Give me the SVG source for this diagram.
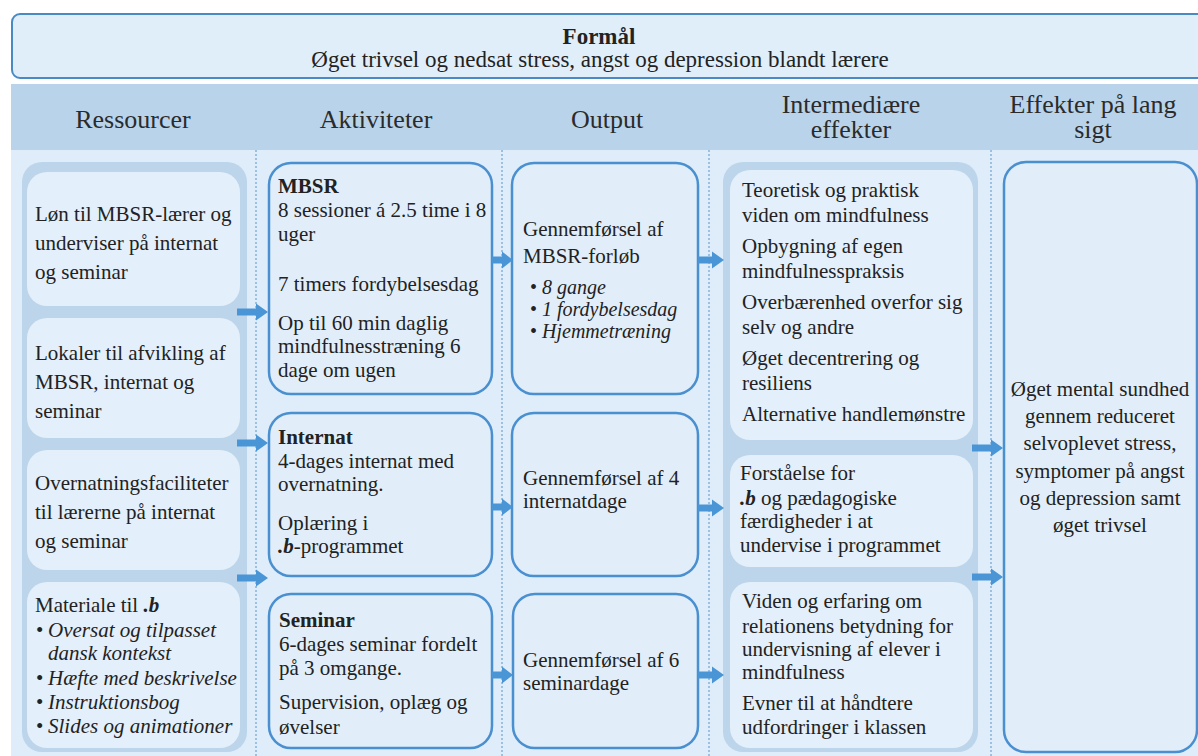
<svg xmlns="http://www.w3.org/2000/svg" width="1198" height="756" viewBox="0 0 1198 756">
<style>
text{font-family:"Liberation Serif","Times New Roman",serif;fill:#222;}
.t{font-size:21px;}
.s{font-size:20px;}
.h{font-size:26px;fill:#2b2b2b;}
.b{font-weight:bold;}
.i{font-style:italic;}
.cont{fill:#bcd5ea;}
.inner{fill:#e3effa;}
.blue{fill:#e1eefa;stroke:#4a8fcf;stroke-width:2.5;}
.div{stroke:#5a93c8;stroke-width:1;stroke-dasharray:2,2;fill:none;}
.arr{fill:#4a95d5;}
.c{text-anchor:middle;}
</style>
<rect x="0" y="0" width="1198" height="756" fill="#ffffff"/>
<g id="formaal">
<rect x="12" y="14" width="1200" height="64" rx="8" fill="#e0eefa" stroke="#4a8ac4" stroke-width="2"/>
<text x="599" y="44" class="c b" style="font-size:23px">Formål</text>
<text x="600" y="67" class="c" style="font-size:23px">Øget trivsel og nedsat stress, angst og depression blandt lærere</text>
</g>
<g id="header">
<rect x="11" y="84" width="1187" height="66" fill="#b9d4ea"/>
<text x="133" y="128" class="h c">Ressourcer</text>
<text x="376" y="128" class="h c">Aktiviteter</text>
<text x="607" y="128" class="h c">Output</text>
<text x="851" y="113" class="h c">Intermediære</text>
<text x="851" y="138" class="h c">effekter</text>
<text x="1093" y="113" class="h c">Effekter på lang</text>
<text x="1093" y="138" class="h c">sigt</text>
</g>
<rect x="11" y="150" width="1187" height="606" fill="#deedf9"/>
<g id="dividers">
<line x1="256" y1="150" x2="256" y2="756" class="div"/>
<line x1="502" y1="150" x2="502" y2="756" class="div"/>
<line x1="709" y1="150" x2="709" y2="756" class="div"/>
<line x1="991" y1="150" x2="991" y2="756" class="div"/>
</g>
<g id="ressourcer">
<rect x="22" y="162" width="225" height="590" rx="20" class="cont"/>
<g id="res-loen">
<rect x="27" y="172" width="213" height="134" rx="20" class="inner"/>
<text class="t" x="35" y="221">Løn til MBSR-lærer og</text>
<text class="t" x="35" y="250">underviser på internat</text>
<text class="t" x="35" y="279">og seminar</text>
</g>
<g id="res-lokaler">
<rect x="27" y="318" width="213" height="120" rx="20" class="inner"/>
<text class="t" x="35" y="360">Lokaler til afvikling af</text>
<text class="t" x="35" y="389">MBSR, internat og</text>
<text class="t" x="35" y="418">seminar</text>
</g>
<g id="res-overnat">
<rect x="27" y="450" width="213" height="120" rx="20" class="inner"/>
<text class="t" x="35" y="490">Overnatningsfaciliteter</text>
<text class="t" x="35" y="519">til lærerne på internat</text>
<text class="t" x="35" y="548">og seminar</text>
</g>
<g id="res-materiale">
<rect x="27" y="582" width="213" height="166" rx="20" class="inner"/>
<text class="t" x="35" y="612">Materiale til <tspan class="b i">.b</tspan></text>
<text class="t" x="36" y="637">•</text><text class="t i" x="48" y="637">Oversat og tilpasset</text>
<text class="t i" x="48" y="660">dansk kontekst</text>
<text class="t" x="36" y="685">•</text><text class="t i" x="48" y="685">Hæfte med beskrivelse</text>
<text class="t" x="36" y="709">•</text><text class="t i" x="48" y="709">Instruktionsbog</text>
<text class="t" x="36" y="733">•</text><text class="t i" x="48" y="733">Slides og animationer</text>
</g>
</g>
<g id="akt-mbsr">
<rect x="269" y="163" width="223" height="231" rx="22" class="blue"/>
<text class="t b" x="278" y="193">MBSR</text>
<text class="t" x="278" y="217">8 sessioner á 2.5 time i 8</text>
<text class="t" x="278" y="241">uger</text>
<text class="t" x="278" y="291">7 timers fordybelsesdag</text>
<text class="t" x="278" y="330">Op til 60 min daglig</text>
<text class="t" x="278" y="353">mindfulnesstræning 6</text>
<text class="t" x="278" y="377">dage om ugen</text>
</g>
<g id="akt-internat">
<rect x="269" y="413" width="223" height="163" rx="22" class="blue"/>
<text class="t b" x="278" y="444">Internat</text>
<text class="t" x="278" y="468">4-dages internat med</text>
<text class="t" x="278" y="491">overnatning.</text>
<text class="t" x="278" y="530">Oplæring i</text>
<text class="t" x="278" y="553"><tspan class="b i">.b</tspan>-programmet</text>
</g>
<g id="akt-seminar">
<rect x="269" y="594" width="223" height="154" rx="22" class="blue"/>
<text class="t b" x="279" y="627">Seminar</text>
<text class="t" x="279" y="651">6-dages seminar fordelt</text>
<text class="t" x="279" y="675">på 3 omgange.</text>
<text class="t" x="279" y="709">Supervision, oplæg og</text>
<text class="t" x="279" y="734">øvelser</text>
</g>
<g id="out-mbsr">
<rect x="512" y="163" width="186" height="231" rx="22" class="blue"/>
<text class="t" x="523" y="236">Gennemførsel af</text>
<text class="t" x="523" y="263">MBSR-forløb</text>
<text class="s" x="530" y="294">•</text><text class="s i" x="542" y="294">8 gange</text>
<text class="s" x="530" y="316">•</text><text class="s i" x="542" y="316">1 fordybelsesdag</text>
<text class="s" x="530" y="338">•</text><text class="s i" x="542" y="338">Hjemmetræning</text>
</g>
<g id="out-internat">
<rect x="512" y="413" width="186" height="163" rx="22" class="blue"/>
<text class="t" x="523" y="485">Gennemførsel af 4</text>
<text class="t" x="523" y="508">internatdage</text>
</g>
<g id="out-seminar">
<rect x="513" y="594" width="185" height="154" rx="22" class="blue"/>
<text class="t" x="523" y="667">Gennemførsel af 6</text>
<text class="t" x="523" y="690">seminardage</text>
</g>
<g id="intermediaere">
<rect x="723" y="162" width="255" height="590" rx="20" class="cont"/>
<g id="int-mindful">
<rect x="730" y="170" width="243" height="270" rx="20" class="inner"/>
<text class="t" x="742" y="197">Teoretisk og praktisk</text>
<text class="t" x="742" y="222">viden om mindfulness</text>
<text class="t" x="742" y="253">Opbygning af egen</text>
<text class="t" x="742" y="278">mindfulnesspraksis</text>
<text class="t" x="742" y="309">Overbærenhed overfor sig</text>
<text class="t" x="742" y="334">selv og andre</text>
<text class="t" x="742" y="365">Øget decentrering og</text>
<text class="t" x="742" y="390">resiliens</text>
<text class="t" x="742" y="421">Alternative handlemønstre</text>
</g>
<g id="int-forstaaelse">
<rect x="730" y="455" width="243" height="112" rx="20" class="inner"/>
<text class="t" x="740" y="480">Forståelse for</text>
<text class="t" x="740" y="505"><tspan class="b i">.b</tspan> og pædagogiske</text>
<text class="t" x="740" y="528">færdigheder i at</text>
<text class="t" x="740" y="552">undervise i programmet</text>
</g>
<g id="int-relation">
<rect x="730" y="582" width="243" height="166" rx="20" class="inner"/>
<text class="t" x="742" y="608">Viden og erfaring om</text>
<text class="t" x="742" y="633">relationens betydning for</text>
<text class="t" x="742" y="656">undervisning af elever i</text>
<text class="t" x="742" y="679">mindfulness</text>
<text class="t" x="742" y="710">Evner til at håndtere</text>
<text class="t" x="742" y="734">udfordringer i klassen</text>
</g>
</g>
<g id="effekter">
<rect x="1004" y="162" width="193" height="590" rx="22" class="blue"/>
<text class="t c" x="1100" y="396">Øget mental sundhed</text>
<text class="t c" x="1100" y="423">gennem reduceret</text>
<text class="t c" x="1100" y="450">selvoplevet stress,</text>
<text class="t c" x="1100" y="478">symptomer på angst</text>
<text class="t c" x="1100" y="505">og depression samt</text>
<text class="t c" x="1100" y="532">øget trivsel</text>
</g>
<g id="connectors">
<path class="arr" d="M237,308.5 H256 V303.5 L268,312 L256,320.5 V315.5 H237 Z"/>
<path class="arr" d="M237,439.5 H256 V434.5 L268,443 L256,451.5 V446.5 H237 Z"/>
<path class="arr" d="M237,574.5 H256 V569.5 L268,578 L256,586.5 V581.5 H237 Z"/>
<path class="arr" d="M492,256.5 H502 V251.5 L513,260 L502,268.5 V263.5 H492 Z"/>
<path class="arr" d="M492,503.5 H502 V498.5 L513,507 L502,515.5 V510.5 H492 Z"/>
<path class="arr" d="M492,671.5 H502 V666.5 L513,675 L502,683.5 V678.5 H492 Z"/>
<path class="arr" d="M698,256.5 H712 V251.5 L724,260 L712,268.5 V263.5 H698 Z"/>
<path class="arr" d="M698,504.5 H712 V499.5 L724,508 L712,516.5 V511.5 H698 Z"/>
<path class="arr" d="M698,671.5 H712 V666.5 L724,675 L712,683.5 V678.5 H698 Z"/>
<path class="arr" d="M972,444.5 H991 V439.5 L1003,448 L991,456.5 V451.5 H972 Z"/>
<path class="arr" d="M972,573.5 H991 V568.5 L1003,577 L991,585.5 V580.5 H972 Z"/>
</g>
</svg>
